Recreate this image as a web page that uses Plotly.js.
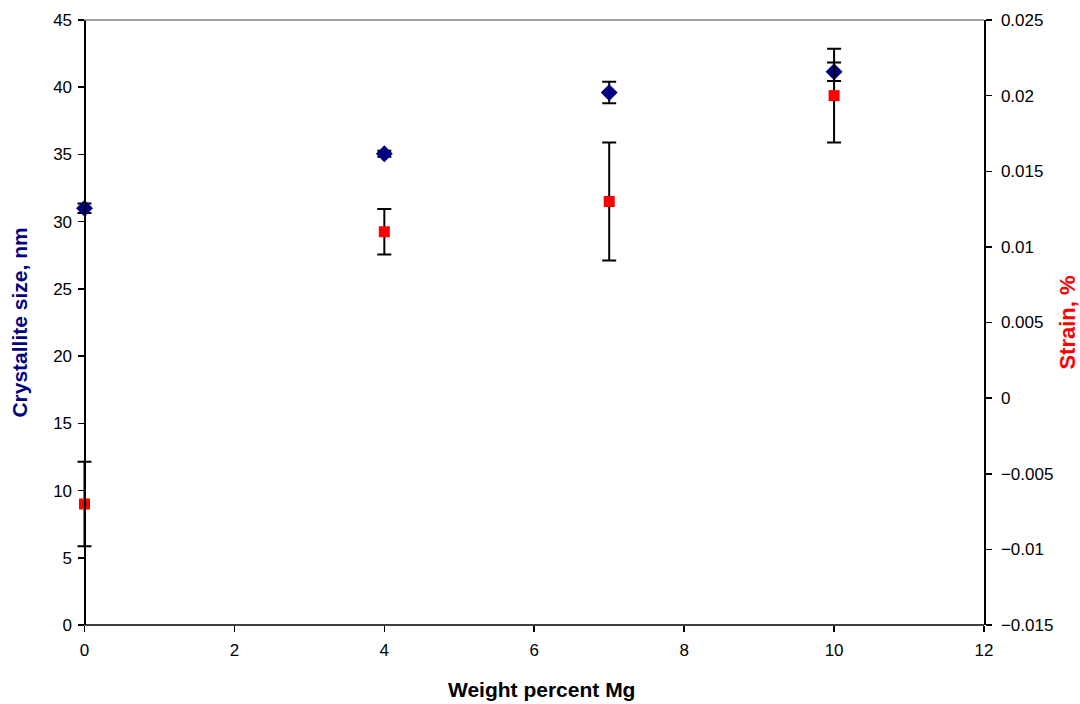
<!DOCTYPE html>
<html>
<head>
<meta charset="utf-8">
<script src="https://cdn.plot.ly/plotly-3.0.1.min.js"></script>
<style>
  html, body { margin: 0; padding: 0; background: #fff; }
  #chart { width: 1080px; height: 704px; }
</style>
</head>
<body>
<div id="chart"></div>
<script>
// Mg content (wt %)
const mgWeightPercent = [0, 4, 7, 10];

// Crystallite size (nm) with its spread
const crystalliteSize = [31.0, 35.05, 39.6, 41.15];
const crystalliteErr = [0.35, 0.22, 0.8, 0.68];

// Lattice strain (%) with its spread
const strainValue = [-0.007, 0.011, 0.013, 0.020];
const strainErr = [0.0028, 0.0015, 0.0039, 0.0031];

// x-axis extent shown, and a little room left of zero so the caps at x = 0 are not cut off
const xMin = 0, xMax = 12, xPad = 0.3;

const tickFont = { family: 'Liberation Sans, Arial, sans-serif', size: 17, color: '#000' };
const titleFamily = 'Liberation Sans, Arial, sans-serif';

const traces = [
  {
    x: mgWeightPercent,
    y: crystalliteSize,
    type: 'scatter',
    mode: 'markers',
    name: 'Crystallite size',
    cliponaxis: false,
    marker: { symbol: 'diamond', size: 13, color: '#000080' },
    error_y: { type: 'data', array: crystalliteErr, visible: true, color: '#000', thickness: 2, width: 7 },
    xaxis: 'x',
    yaxis: 'y'
  },
  {
    x: mgWeightPercent,
    y: strainValue,
    type: 'scatter',
    mode: 'markers',
    name: 'Strain',
    cliponaxis: false,
    marker: { symbol: 'square', size: 11, color: '#ff0000' },
    error_y: { type: 'data', array: strainErr, visible: true, color: '#000', thickness: 2, width: 7 },
    xaxis: 'x',
    yaxis: 'y2'
  }
];

const layout = {
  width: 1080,
  height: 704,
  margin: { l: 62, r: 96, t: 20, b: 79 },
  paper_bgcolor: '#fff',
  plot_bgcolor: '#fff',
  showlegend: false,
  xaxis: {
    range: [xMin - xPad, xMax],
    dtick: 2,
    tick0: 0,
    showgrid: false,
    zeroline: false,
    showline: false,
    ticks: 'outside',
    ticklen: 6,
    tickcolor: '#000',
    tickwidth: 1.5,
    ticklabelstandoff: 4,
    tickfont: tickFont
  },
  yaxis: {
    range: [0, 45],
    dtick: 5,
    tick0: 0,
    anchor: 'free',
    position: xPad / (xMax - xMin + xPad),
    showgrid: false,
    zeroline: false,
    showline: true,
    linecolor: '#000',
    linewidth: 1.5,
    ticks: 'outside',
    ticklen: 6,
    tickcolor: '#000',
    tickwidth: 1.5,
    ticklabelstandoff: 3,
    tickfont: tickFont,
    title: {
      text: 'Crystallite size, nm',
      font: { family: titleFamily, size: 21, color: '#000080', weight: 'bold' },
      standoff: 18
    }
  },
  yaxis2: {
    range: [-0.015, 0.025],
    dtick: 0.005,
    tick0: 0,
    overlaying: 'y',
    side: 'right',
    showgrid: false,
    zeroline: false,
    showline: true,
    linecolor: '#000',
    linewidth: 1.5,
    ticks: 'outside',
    ticklen: 6,
    tickcolor: '#000',
    tickwidth: 1.5,
    ticklabelstandoff: 6,
    tickfont: tickFont,
    title: {
      text: 'Strain, %',
      font: { family: titleFamily, size: 22, color: '#ff0000', weight: 'bold' },
      standoff: 12
    }
  },
  // inner half of the right-axis tick marks
  yaxis3: {
    range: [-0.015, 0.025],
    dtick: 0.005,
    tick0: 0,
    overlaying: 'y',
    side: 'right',
    showgrid: false,
    zeroline: false,
    showline: false,
    ticks: 'inside',
    ticklen: 6,
    tickcolor: '#000',
    tickwidth: 1.5,
    showticklabels: false
  },
  shapes: [
    // x-axis line from 0 to 12
    {
      type: 'line', xref: 'x', yref: 'paper',
      x0: xMin, x1: xMax, y0: 0, y1: 0,
      line: { color: '#000', width: 1.5 }
    },
    // plot-area top border
    {
      type: 'line', xref: 'x', yref: 'paper',
      x0: xMin, x1: xMax, y0: 1, y1: 1,
      line: { color: '#808080', width: 1.5 }
    }
  ],
  annotations: [
    {
      text: 'Weight percent Mg',
      xref: 'x', yref: 'paper',
      x: 6.1, y: 0,
      xanchor: 'center', yanchor: 'middle',
      yshift: -64,
      showarrow: false,
      font: { family: titleFamily, size: 21, color: '#000', weight: 'bold' }
    }
  ]
};

Plotly.newPlot('chart', traces, layout, { displayModeBar: false, staticPlot: true });
</script>
</body>
</html>
